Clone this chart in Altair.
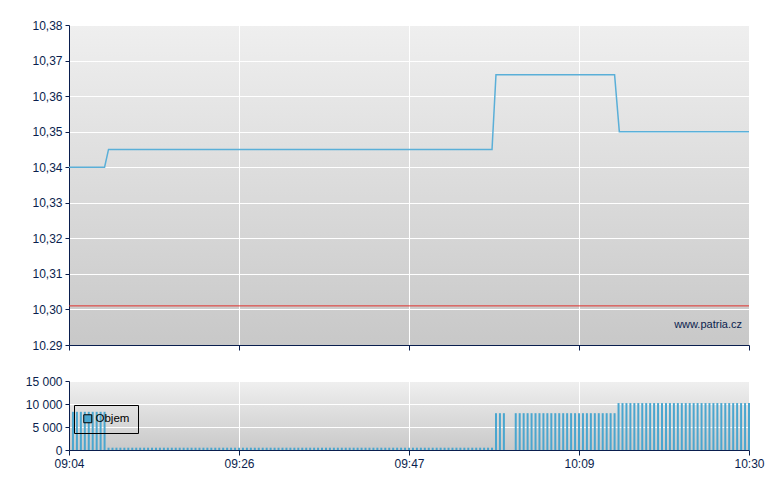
import json
import altair as alt
import pandas as pd

# ---- data ----
# price line: minutes after 09:04 and price
price_t = [0, 4.5, 5.0, 53.5, 54.0, 69.0, 69.6, 86.0]
price_v = [10.34, 10.34, 10.345, 10.345, 10.366, 10.366, 10.35, 10.35]
ref_price = 10.301

# volume bars: runs of bars every half minute (start, end, volume)
bar_interval = 0.5
bar_seg_start = [0.5, 5.0, 54.0, 56.5, 69.5]
bar_seg_end = [4.5, 53.5, 55.0, 69.0, 86.0]
bar_seg_volume = [8300, 500, 8000, 8000, 10200]

x_ticks = [0, 21.5, 43, 64.5, 86]
x_labels = ["09:04", "09:26", "09:47", "10:09", "10:30"]
y_ticks = [10.29, 10.30, 10.31, 10.32, 10.33, 10.34, 10.35, 10.36, 10.37, 10.38]
vol_ticks = [0, 5000, 10000, 15000]
series_name = "Objem"
watermark = "www.patria.cz"

# ---- tables ----
price_df = pd.DataFrame({"t": price_t, "p": price_v})
rows = []
for s, e, v in zip(bar_seg_start, bar_seg_end, bar_seg_volume):
    n = int(round((e - s) / bar_interval)) + 1
    for i in range(n):
        rows.append({"t": s + i * bar_interval, "v": v, "s": series_name})
vol_df = pd.DataFrame(rows)

navy = "#0a1e4e"
font = "Liberation Sans"
fs = 12
line_col = "#5aafd8"
bar_col = "#4aa6cf"

x_label_expr = (
    f"{json.dumps(x_labels)}[indexof({json.dumps(x_ticks)}, datum.value)]"
)
y_label_expr = (
    "datum.value < 10.295 ? '10.29' : replace(format(datum.value, '.2f'), '.', ',')"
)
vol_label_expr = "replace(format(datum.value, ','), ',', ' ')"

def grad(top, bottom):
    return {"expr": "{gradient: 'linear', x1: 0, y1: 0, x2: 0, y2: 1, stops: ["
                    f"{{offset: 0, color: '{top}'}}, {{offset: 1, color: '{bottom}'}}]}}"}

common_axis = dict(
    labelFont=font, labelFontSize=fs, labelColor=navy,
    domainColor=navy, tickColor=navy, gridColor="white",
    gridWidth=1, domainWidth=1, tickWidth=1, title=None,
    labelOverlap=False, labelBound=False, labelFlush=False, tickCount=20,
)

# ---- top panel ----
top_x = alt.X("t:Q", scale=alt.Scale(domain=[0, 86], nice=False, zero=False, padding=0),
              axis=alt.Axis(values=x_ticks, labels=False, tickSize=5, **common_axis))
top_y = alt.Y("p:Q", scale=alt.Scale(domain=[10.29, 10.38], nice=False, zero=False),
              axis=alt.Axis(values=y_ticks, labelExpr=y_label_expr, tickSize=4,
                            labelPadding=3, minExtent=48, maxExtent=48, **common_axis))

line = alt.Chart(price_df).mark_line(color=line_col, strokeWidth=1.5).encode(x=top_x, y=top_y)
rule = alt.Chart(pd.DataFrame({"p": [ref_price]})).mark_rule(
    color="#e0302c", strokeWidth=1).encode(y=alt.Y("p:Q"))
wm = alt.Chart(pd.DataFrame({"w": [watermark]})).mark_text(
    align="right", baseline="alphabetic", font=font, fontSize=11, color=navy
).encode(x=alt.value(673), y=alt.value(303), text="w:N")

top = alt.layer(rule, line, wm).properties(
    width=680, height=320,
    view=alt.ViewBackground(fill=grad("#efefef", "#c8c8c8"), strokeOpacity=0),
)

# ---- volume panel ----
bot_x = alt.X("t:Q", scale=alt.Scale(domain=[0, 86], nice=False, zero=False, padding=0),
              axis=alt.Axis(values=x_ticks, labelExpr=x_label_expr, tickSize=5,
                            labelPadding=3, **common_axis))
bot_y = alt.Y("v:Q", scale=alt.Scale(domain=[0, 15000], nice=False),
              axis=alt.Axis(values=vol_ticks, labelExpr=vol_label_expr, tickSize=4,
                            labelPadding=3, minExtent=48, maxExtent=48, **common_axis))
bars = alt.Chart(vol_df).mark_bar(size=2).encode(
    x=bot_x, y=bot_y,
    color=alt.Color("s:N", scale=alt.Scale(range=[bar_col]),
                    legend=alt.Legend(title=None, orient="none", legendX=5, legendY=380,
                                      strokeColor="black", padding=8,
                                      symbolType="square", symbolSize=64,
                                      symbolStrokeColor="black", symbolStrokeWidth=1,
                                      symbolFillColor=bar_col, labelOffset=2,
                                      labelFont=font, labelFontSize=11.5,
                                      labelColor="black")),
)
bot = bars.properties(
    width=680, height=69,
    view=alt.ViewBackground(fill=grad("#efefef", "#c9c9c9"), strokeOpacity=0),
)

chart = alt.vconcat(top, bot, spacing=36, bounds="flush").properties(
    padding={"left": 13, "top": 11, "right": 5, "bottom": 5},
    background="white",
)

chart.save("out.html", embed_options={"renderer": "svg", "actions": False})
